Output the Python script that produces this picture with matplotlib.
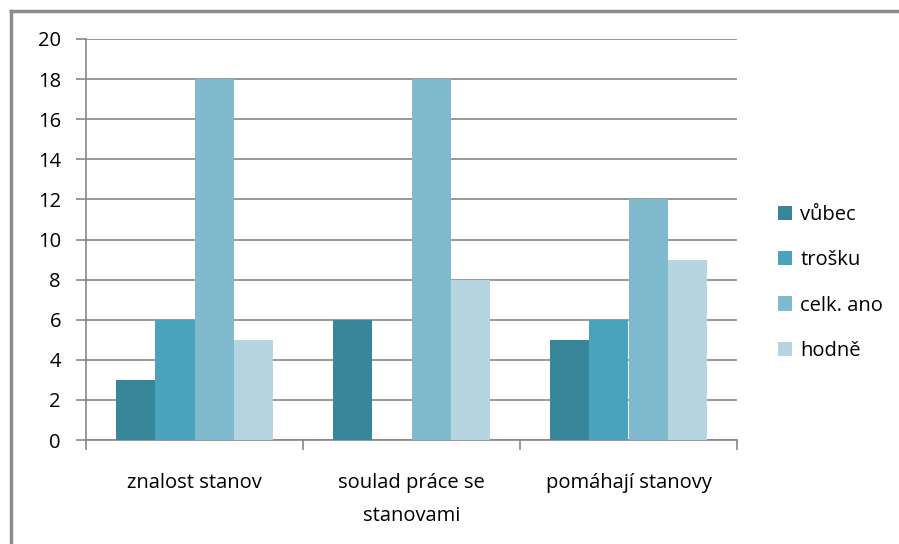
import matplotlib.pyplot as plt
import numpy as np
from matplotlib.lines import Line2D

plt.rcParams['font.family'] = ['Open Sans', 'DejaVu Sans']

categories = ["znalost stanov", "soulad práce se\nstanovami", "pomáhají stanovy"]
series_names = ["vůbec", "trošku", "celk. ano", "hodně"]
vubec = [3, 6, 5]
trosku = [6, 0, 6]
celk_ano = [18, 18, 12]
hodne = [5, 8, 9]
y_ticks = [0, 2, 4, 6, 8, 10, 12, 14, 16, 18, 20]

colors = ["#37869a", "#4aa3bc", "#7fbace", "#b7d5e0"]
grid_color = "#878787"
fs = 14.5

fig = plt.figure(figsize=(8.99, 5.44), dpi=100)
ax = fig.add_axes([86 / 899, 1 - 440 / 544, (737 - 86) / 899, (440 - 39) / 544])

x = np.arange(len(categories))
w = 0.18
all_series = [vubec, trosku, celk_ano, hodne]
for i, (name, vals) in enumerate(zip(series_names, all_series)):
    ax.bar(x + (i - 1.5) * w, vals, w, color=colors[i], label=name, zorder=3)

ax.set_xlim(-0.5, len(categories) - 0.5)
ax.set_ylim(0, 20)
ax.set_yticks(y_ticks)
ax.set_yticklabels([str(t) for t in y_ticks], fontsize=fs)
ax.yaxis.grid(True, color=grid_color, linewidth=1.2, zorder=0)

ax.set_xticks(np.arange(-0.5, len(categories)), minor=False)
ax.set_xticklabels([])
ax.set_xticks(x, minor=True)
ax.set_xticklabels(categories, minor=True, fontsize=fs, linespacing=1.85)
ax.tick_params(axis='x', which='minor', length=0, pad=24)
ax.tick_params(axis='x', which='major', length=7, color=grid_color, width=1.2)
ax.tick_params(axis='y', length=7, color=grid_color, width=1.2, pad=11)

for s in ['top', 'right']:
    ax.spines[s].set_visible(False)
for s in ['left', 'bottom']:
    ax.spines[s].set_color(grid_color)
    ax.spines[s].set_linewidth(1.2)

fig.legend(loc='center left', bbox_to_anchor=(760 / 899, 1 - 283 / 544),
           frameon=False, fontsize=fs, handlelength=0.7, handleheight=0.7,
           handletextpad=0.4, labelspacing=1.25)

# outer chart border (top and left only visible)
fig.add_artist(Line2D([11 / 899, 11 / 899], [0, 1 - 11 / 544],
                      transform=fig.transFigure, color="#8c8c8c", linewidth=2.5))
fig.add_artist(Line2D([11 / 899, 1], [1 - 11 / 544, 1 - 11 / 544],
                      transform=fig.transFigure, color="#8c8c8c", linewidth=2.5))

plt.savefig("out.png", dpi=100)
